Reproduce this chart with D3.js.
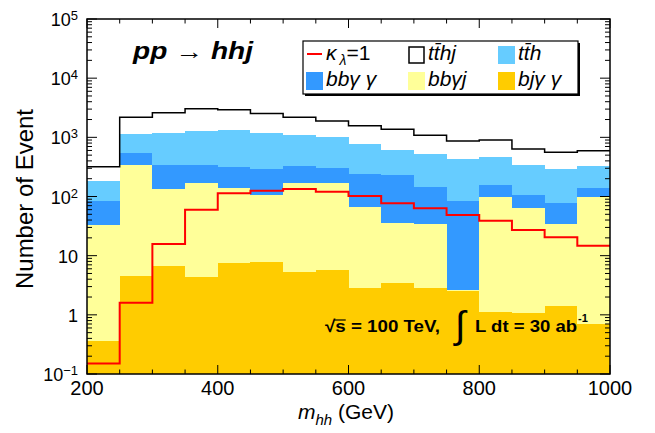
<!DOCTYPE html>
<html lang="en">
<head>
<meta charset="UTF-8">
<title>pp → hhj, m_hh distribution</title>
<script src="https://d3js.org/d3.v7.min.js"></script>
<style>
  body { margin: 0; background: #fff; }
  svg text { font-family: "Liberation Sans", Arial, Helvetica, sans-serif; fill: #000; }
</style>
</head>
<body>
<svg id="chart" width="655" height="433"></svg>
<script>
// bin low edges (GeV), 50 GeV wide bins
const binLow = [200, 250, 300, 350, 400, 450, 500, 550, 600, 650, 700, 750, 800, 850, 900, 950];
const binWidth = 50;

// backgrounds, events per bin (stacked bottom -> top)
const bjaa = [0.36, 4.6, 6.7, 4.3, 7.4, 7.8, 5.4, 5.7, 2.8, 3.5, 2.8, 2.5, 1.1, 1.06, 1.4, 0.7];
const bbaj = [32.6, 331, 128, 163, 130, 98, 166, 165, 64, 31.5, 32, 0.1, 98, 62, 32.6, 98];
const bbaa = [52, 214, 210, 173, 174, 186, 161, 136, 170, 196, 112, 81, 57, 43, 44.5, 38];
const tth = [98, 587, 852, 954, 1019, 905, 762, 693, 525, 387, 376, 351, 315, 239, 216, 190];
const tthj = [136, 1043, 1413, 1756, 1600, 1343, 1086, 890, 808, 747, 557, 432, 429, 290, 263, 267];

// signal, kappa_lambda = 1 (not stacked)
const signal = [0.151, 1.6, 15.7, 59.8, 113, 125, 134, 120, 102, 76.6, 63, 48.7, 39, 27.2, 20.4, 14.7];

const yMajor = [0.1, 1, 10, 100, 1e3, 1e4, 1e5];
const yLabels = [["10", "\u22121"], ["1", ""], ["10", ""], ["10", "2"], ["10", "3"], ["10", "4"], ["10", "5"]];
const xMajor = [200, 400, 600, 800, 1000];

const keys = ["bjaa", "bbaj", "bbaa", "tth", "tthj"];
const colors = { bjaa: "#ffcc00", bbaj: "#ffff99", bbaa: "#3399ff", tth: "#66ccff", tthj: "#ffffff" };

const svg = d3.select("#chart");
const mLeft = 87, mRight = 610, mTop = 19, mBottom = 374;

const x = d3.scaleLinear().domain([200, 1000]).range([mLeft, mRight]);
const y = d3.scaleLog().domain([0.1, 1e5]).range([mBottom, mTop]);

const rows = binLow.map((b, i) => ({
  x: b, bjaa: bjaa[i], bbaj: bbaj[i], bbaa: bbaa[i], tth: tth[i], tthj: tthj[i]
}));
const series = d3.stack().keys(keys)(rows);

// add closing point at the upper edge of the last bin
function withEnd(pts) {
  const last = pts[pts.length - 1];
  return pts.concat([Object.assign({}, last, { x: last.x + binWidth })]);
}

svg.append("clipPath").attr("id", "plot")
  .append("rect").attr("x", mLeft).attr("y", mTop)
  .attr("width", mRight - mLeft).attr("height", mBottom - mTop);

const plot = svg.append("g").attr("clip-path", "url(#plot)");

const area = d3.area()
  .curve(d3.curveStepAfter)
  .x(d => x(d.x))
  .y0(d => y(Math.max(d.y0, 0.1)))
  .y1(d => y(Math.max(d.y1, 0.1)));

series.forEach(s => {
  const pts = withEnd(s.map((d, i) => ({ x: binLow[i], y0: d[0], y1: d[1] })));
  plot.append("path")
    .attr("d", area(pts))
    .attr("fill", colors[s.key])
    .attr("shape-rendering", "crispEdges");
});

const step = d3.line().curve(d3.curveStepAfter).x(d => x(d.x)).y(d => y(d.v));

const topSeries = series[series.length - 1];
plot.append("path")
  .attr("d", step(withEnd(topSeries.map((d, i) => ({ x: binLow[i], v: d[1] })))))
  .attr("fill", "none").attr("stroke", "#000").attr("stroke-width", 1.5);

plot.append("path")
  .attr("d", step(withEnd(signal.map((v, i) => ({ x: binLow[i], v })))))
  .attr("fill", "none").attr("stroke", "#ff0000").attr("stroke-width", 2);

// frame and ticks
const axes = svg.append("g").attr("stroke", "#000").attr("stroke-width", 1);

const yMinor = [];
for (let e = -1; e < 5; e++) {
  for (let m = 2; m <= 9; m++) yMinor.push(m * Math.pow(10, e));
}
yMajor.forEach(v => {
  axes.append("line").attr("x1", mLeft).attr("x2", mLeft + 10).attr("y1", y(v)).attr("y2", y(v));
  axes.append("line").attr("x1", mRight).attr("x2", mRight - 10).attr("y1", y(v)).attr("y2", y(v));
});
yMinor.forEach(v => {
  axes.append("line").attr("x1", mLeft).attr("x2", mLeft + 5).attr("y1", y(v)).attr("y2", y(v));
  axes.append("line").attr("x1", mRight).attr("x2", mRight - 5).attr("y1", y(v)).attr("y2", y(v));
});
d3.range(200, 1001, 50).forEach(v => {
  const len = xMajor.includes(v) ? 9 : 4.5;
  axes.append("line").attr("x1", x(v)).attr("x2", x(v)).attr("y1", mBottom).attr("y2", mBottom - len);
  axes.append("line").attr("x1", x(v)).attr("x2", x(v)).attr("y1", mTop).attr("y2", mTop + len);
});

svg.append("rect")
  .attr("x", mLeft).attr("y", mTop)
  .attr("width", mRight - mLeft).attr("height", mBottom - mTop)
  .attr("fill", "none").attr("stroke", "#000").attr("stroke-width", 1.5);

// tick labels
yMajor.forEach((v, i) => {
  const t = svg.append("text")
    .attr("x", 78).attr("y", y(v) + 7)
    .attr("text-anchor", "end")
    .style("font-size", "18px");
  t.append("tspan").text(yLabels[i][0]);
  if (yLabels[i][1]) {
    t.append("tspan").attr("dy", -6).style("font-size", "13px").text(yLabels[i][1]);
  }
});

xMajor.forEach(v => {
  svg.append("text")
    .attr("x", x(v)).attr("y", 395)
    .attr("text-anchor", "middle")
    .style("font-size", "20px")
    .text(v);
});

// axis titles
const xt = svg.append("text").attr("x", 298).attr("y", 419).style("font-size", "21px");
xt.append("tspan").style("font-style", "italic").text("m");
xt.append("tspan").attr("dy", 6).style("font-style", "italic").style("font-size", "15px").text("hh");
xt.append("tspan").attr("dy", -6).text(" (GeV)");

svg.append("text")
  .attr("transform", "translate(33,199) rotate(-90)")
  .attr("text-anchor", "middle")
  .style("font-size", "24px")
  .text("Number of Event");

// process label
const title = svg.append("text").attr("x", 133).attr("y", 59)
  .style("font-size", "23px")
  .attr("textLength", 120).attr("lengthAdjust", "spacingAndGlyphs");
title.append("tspan").style("font-weight", "bold").style("font-style", "italic").text("pp");
title.append("tspan").text(" \u2192 ");
title.append("tspan").style("font-weight", "bold").style("font-style", "italic").text("hhj");

// legend
const lg = svg.append("g");
lg.append("rect").attr("x", 305).attr("y", 43).attr("width", 275).attr("height", 53).attr("fill", "#000");
lg.append("rect").attr("x", 303).attr("y", 41).attr("width", 275).attr("height", 53)
  .attr("fill", "#fff").attr("stroke", "#000").attr("stroke-width", 1.2);

const entries = [
  { key: "sig", label: ["\u03ba", "\u03bb", "=1"], col: 0, row: 0 },
  { key: "tthj", label: ["tt\u0304hj"], col: 1, row: 0 },
  { key: "tth", label: ["tt\u0304h"], col: 2, row: 0 },
  { key: "bbaa", label: ["bb\u03b3 \u03b3"], col: 0, row: 1 },
  { key: "bbaj", label: ["bb\u03b3j"], col: 1, row: 1 },
  { key: "bjaa", label: ["bj\u03b3 \u03b3"], col: 2, row: 1 }
];
const colX = [306, 408, 498];
const rowY = [46, 72];

entries.forEach(e => {
  const bx = colX[e.col], by = rowY[e.row];
  if (e.key === "sig") {
    lg.append("line").attr("x1", bx + 1).attr("x2", bx + 16).attr("y1", by + 8).attr("y2", by + 8)
      .attr("stroke", "#ff0000").attr("stroke-width", 2);
  } else if (e.key === "tthj") {
    lg.append("rect").attr("x", bx + 1).attr("y", by + 1).attr("width", 15).attr("height", 16)
      .attr("fill", "#fff").attr("stroke", "#000").attr("stroke-width", 1.5);
  } else {
    lg.append("rect").attr("x", bx).attr("y", by).attr("width", 17).attr("height", 18)
      .attr("fill", colors[e.key]);
  }
  const t = lg.append("text").attr("x", bx + 20).attr("y", by + 14).style("font-size", "21px");
  if (e.key === "sig") {
    t.append("tspan").style("font-style", "italic").text(e.label[0]);
    t.append("tspan").attr("dx", 3).attr("dy", 5).style("font-size", "14px").style("font-style", "italic").text(e.label[1]);
    t.append("tspan").attr("dy", -5).text(e.label[2]);
  } else {
    t.append("tspan").style("font-style", "italic").text(e.label[0]);
  }
});

// collider / luminosity label
const ann = svg.append("g").style("font-weight", "bold");
const s1 = ann.append("text").attr("x", 325).attr("y", 332).style("font-size", "17px")
  .attr("textLength", 115).attr("lengthAdjust", "spacingAndGlyphs")
  .text("\u221As = 100 TeV,");
const sBox = s1.node().getExtentOfChar(1);
ann.append("line")
  .attr("x1", sBox.x - 1).attr("x2", sBox.x + sBox.width)
  .attr("y1", sBox.y + 3).attr("y2", sBox.y + 3)
  .attr("stroke", "#000").attr("stroke-width", 1.2);

ann.append("text").attr("x", 455).attr("y", 338)
  .style("font-size", "38px").style("font-weight", "normal").text("\u222B");

ann.append("text").attr("x", 475).attr("y", 332).style("font-size", "17px")
  .attr("textLength", 102).attr("lengthAdjust", "spacingAndGlyphs")
  .text("L dt = 30 ab");
ann.append("text").attr("x", 578).attr("y", 322).style("font-size", "11px").text("-1");
</script>
</body>
</html>
